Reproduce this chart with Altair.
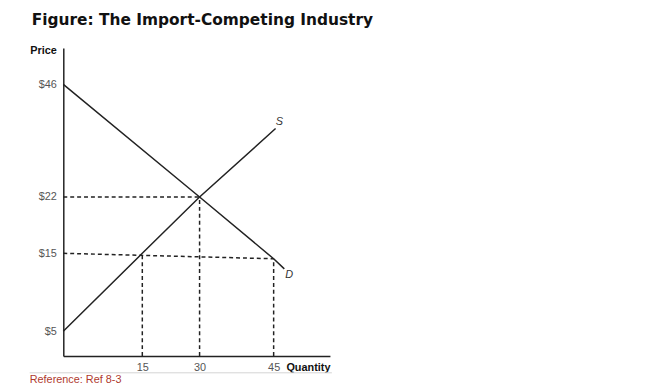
import altair as alt
import pandas as pd

# Tick values
price_ticks = [5, 15, 22, 46]
qty_ticks = [15, 30, 45]

# Demand and supply curves (quantity, price)
demand_q = [0, 30, 45, 47.2]
demand_p = [46, 22, 14.3, 13.0]
supply_q = [0, 15, 30, 45.4]
supply_p = [5, 15, 22, 36.6]

# Dashed guide lines
guide_x = [0, 0, 15, 30, 45]
guide_x2 = [30, 45, 15, 30, 45]
guide_y = [22, 15, 0, 0, 0]
guide_y2 = [22, 14.3, 15, 22, 14.3]

# Curve labels
label_text = ["S", "D"]
label_q = [46.2, 48.2]
label_p = [37.9, 12.2]

FONT = "Liberation Sans"

xscale = alt.Scale(domain=[0, 15, 30, 45, 56.6], range=[0, 80, 138, 213, 270], nice=False, zero=False)
yscale = alt.Scale(domain=[0, 5, 15, 22, 46, 53.7], range=[312, 287, 208, 151, 37, 0], nice=False, zero=False)

curves = pd.DataFrame({
    "q": demand_q + supply_q,
    "p": demand_p + supply_p,
    "curve": ["Demand"] * len(demand_q) + ["Supply"] * len(supply_q),
    "order": list(range(len(demand_q))) + list(range(len(supply_q))),
})
guides = pd.DataFrame({"x": guide_x, "x2": guide_x2, "y": guide_y, "y2": guide_y2})
labels = pd.DataFrame({"t": label_text, "q": label_q, "p": label_p})

x_axis = alt.Axis(
    values=qty_ticks, grid=False, ticks=False, labelPadding=6,
    labelFont=FONT, labelFontSize=11, labelColor="#555",
    domainColor="#222", domainWidth=1.5,
    title="Quantity", titleFont=FONT, titleFontSize=11, titleFontWeight="bold",
    titleColor="#111", titleAlign="right", titleX=270, titleY=12, titleBaseline="middle",
    labelFlush=False,
)
y_axis = alt.Axis(
    values=price_ticks, grid=False, ticks=False, labelPadding=7,
    labelExpr="'$' + datum.value",
    labelFont=FONT, labelFontSize=11, labelColor="#555",
    domainColor="#222", domainWidth=1.5,
    title="Price", titleFont=FONT, titleFontSize=11, titleFontWeight="bold",
    titleColor="#111", titleAngle=0, titleAlign="right", titleX=-7, titleY=3,
    titleBaseline="middle", labelFlush=False,
)

guide_layer = alt.Chart(guides).mark_rule(color="#222", strokeWidth=1.5, strokeDash=[4, 3]).encode(
    x=alt.X("x:Q", scale=xscale, axis=x_axis),
    x2="x2:Q",
    y=alt.Y("y:Q", scale=yscale, axis=y_axis),
    y2="y2:Q",
)

curve_layer = alt.Chart(curves).mark_line(color="#222", strokeWidth=1.5).encode(
    x=alt.X("q:Q", scale=xscale),
    y=alt.Y("p:Q", scale=yscale),
    detail="curve:N",
    order="order:Q",
)

label_layer = alt.Chart(labels).mark_text(
    font=FONT, fontSize=11, fontStyle="italic", color="#333"
).encode(
    x=alt.X("q:Q", scale=xscale),
    y=alt.Y("p:Q", scale=yscale),
    text="t:N",
)

footer_rule = alt.Chart(pd.DataFrame({"a": [0]})).mark_rule(color="#d4d4d4", strokeWidth=1).encode(
    x=alt.value(-34), x2=alt.value(272), y=alt.value(329), y2=alt.value(329)
)
footer_text = alt.Chart(pd.DataFrame({"t": ["Reference: Ref 8-3"]})).mark_text(
    font=FONT, fontSize=11, color="#b03a2e", align="left", baseline="middle"
).encode(x=alt.value(-34), y=alt.value(336), text="t:N")

chart = alt.layer(guide_layer, curve_layer, label_layer, footer_rule, footer_text).properties(
    width=270,
    height=312,
    background="white",
    title=alt.TitleParams(
        "Figure: The Import-Competing Industry",
        font="DejaVu Sans", fontSize=15.6, fontWeight="bold", color="#111",
        anchor="start", frame="group", dx=-32, offset=17,
    ),
    autosize=alt.AutoSizeParams(type="none"),
    padding={"left": 56, "top": 38, "right": 316, "bottom": 31},
).configure_view(strokeWidth=0)

chart.save("out.html", embed_options={"renderer": "svg", "actions": False})
